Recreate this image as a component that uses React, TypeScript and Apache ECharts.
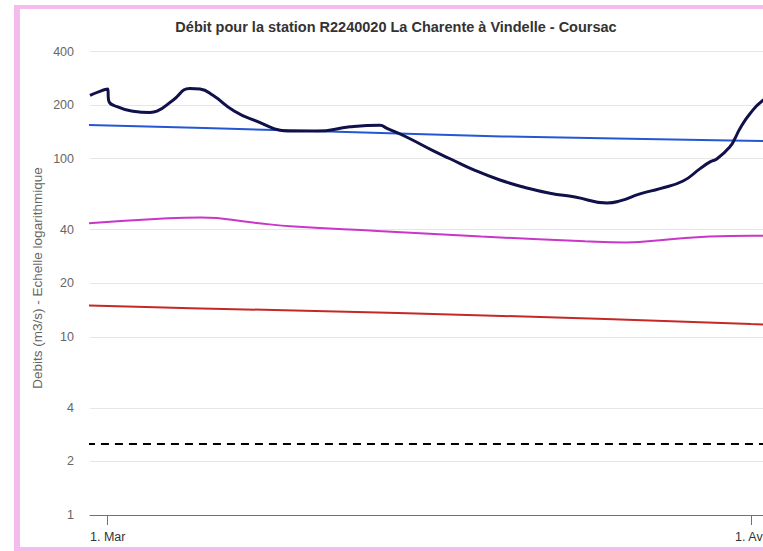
import React, { useEffect, useRef } from "react";
import * as echarts from "echarts";

const YEAR = 2023;
const TITLE = "Débit pour la station R2240020 La Charente à Vindelle - Coursac";
const Y_AXIS_NAME = "Debits (m3/s) - Echelle logarithmique";
const Y_TICKS = [1, 2, 4, 10, 20, 40, 100, 200, 400];
const X_TICKS = ["03-01 00:00", "04-01 00:00"];
const X_TICK_LABELS = ["1. Mar", "1. Avr"];

const OBS_TIMES = [
  "02-28 03:30", "02-28 15:00", "03-01 00:00", "03-01 01:00", "03-01 10:45",
  "03-02 05:15", "03-03 01:00", "03-03 09:00", "03-04 03:30", "03-04 23:00",
  "03-05 10:45", "03-06 01:40", "03-07 01:00", "03-07 20:30", "03-09 22:20",
  "03-11 02:10", "03-12 16:20", "03-14 03:00", "03-14 11:00", "03-15 10:10",
  "03-16 16:10", "03-17 12:00", "03-18 16:50", "03-19 21:40", "03-21 02:40",
  "03-22 07:30", "03-23 12:30", "03-25 01:30", "03-25 16:30", "03-26 15:40",
  "03-27 14:50", "03-28 17:30", "03-29 13:10", "03-30 00:40", "03-30 08:50",
  "03-30 23:50", "03-31 05:30", "03-31 11:20", "03-31 22:50", "04-01 14:00",
  "04-02 09:40",
];
const OBS_VALUES = [
  227, 239, 246, 213, 196,
  185, 182, 185, 213, 248,
  246, 227, 187, 168, 143,
  143, 151, 154, 148, 132,
  111, 100, 86, 76, 69,
  64, 61, 56.5, 58, 63.5,
  68, 75, 88, 96, 100,
  117, 130, 148, 179, 213,
  240,
];

const BLUE_TIMES = ["02-28 00:00", "03-10 00:00", "03-20 00:00", "03-31 00:00", "04-10 00:00"];
const BLUE_VALUES = [155, 144, 133.5, 126.5, 121];

const MAGENTA_TIMES = [
  "02-28 00:00", "03-03 12:00", "03-05 12:00", "03-08 00:00", "03-10 00:00",
  "03-14 00:00", "03-19 00:00", "03-24 00:00", "03-26 00:00", "03-28 00:00",
  "03-30 00:00", "04-01 00:00", "04-10 00:00",
];
const MAGENTA_VALUES = [43.3, 46, 46.8, 43.8, 41.6, 39.3, 36.6, 34.4, 33.9, 35.2, 36.6, 37, 37];

const RED_TIMES = ["02-28 00:00", "03-05 00:00", "03-15 00:00", "03-25 00:00", "04-01 00:00", "04-10 00:00"];
const RED_VALUES = [15.0, 14.5, 13.6, 12.6, 11.8, 11.0];

const DASH_TIMES = ["02-28 00:00", "04-10 00:00"];
const DASH_VALUES = [2.5, 2.5];

const DAY = 86400000;
const ts = (s: string) => Date.parse(`${YEAR}-${s.replace(" ", "T")}:00Z`);
const X_MIN = ts("03-01 00:00") - 0.853 * DAY;
const X_MAX = ts("04-10 00:00");
const PX_PER_DAY = 20.75;
const GRID_LEFT = 90;
const CHART_W = 1000;
const PLOT_W = ((X_MAX - X_MIN) / DAY) * PX_PER_DAY;

const toData = (times: string[], vals: number[]) =>
  times.map((t, i) => [ts(t), Math.log10(vals[i])]);

const FONT = "'Liberation Sans', Arial, Helvetica, sans-serif";

export default function App() {
  const ref = useRef<HTMLDivElement>(null);
  useEffect(() => {
    if (!ref.current) return;
    const chart = echarts.init(ref.current, null, { renderer: "svg" });
    const yTickVals = Y_TICKS.map((v) => Math.log10(v));
    const xTickVals = X_TICKS.map(ts);
    chart.setOption({
      animation: false,
      textStyle: { fontFamily: FONT },
      grid: {
        left: GRID_LEFT,
        width: PLOT_W,
        top: 51.5,
        bottom: 36,
      },
      graphic: [
        {
          type: "text",
          x: 396,
          y: 27,
          style: {
            text: TITLE,
            font: `bold 14.5px ${FONT}`,
            fill: "#333333",
            align: "center",
            verticalAlign: "middle",
          },
        },
        {
          type: "text",
          x: 37,
          y: 278,
          rotation: Math.PI / 2,
          style: {
            text: Y_AXIS_NAME,
            font: `13.5px ${FONT}`,
            fill: "#666666",
            align: "center",
            verticalAlign: "middle",
          },
        },
      ],
      xAxis: {
        type: "value",
        min: X_MIN,
        max: X_MAX,
        axisLine: { show: true, lineStyle: { color: "#707070", width: 1 } },
        axisTick: {
          show: true,
          length: 10,
          customValues: xTickVals,
          lineStyle: { color: "#707070" },
        },
        axisLabel: {
          customValues: xTickVals,
          margin: 15,
          color: "#333333",
          fontSize: 12.5,
          fontFamily: FONT,
          formatter: (v: number) => {
            const i = xTickVals.findIndex((t) => Math.abs(t - v) < 1000);
            return i >= 0 ? X_TICK_LABELS[i] : "";
          },
        },
        splitLine: { show: false },
      },
      yAxis: {
        type: "value",
        min: 0,
        max: Math.log10(400),
        axisLine: { show: false },
        axisTick: { show: false, customValues: yTickVals },
        axisLabel: {
          customValues: yTickVals,
          margin: 16,
          color: "#666666",
          fontSize: 12.5,
          fontFamily: FONT,
          formatter: (v: number) => String(Math.round(Math.pow(10, v))),
        },
        splitLine: { show: true, lineStyle: { color: "#e6e6e6", width: 1 } },
      },
      series: [
        {
          type: "line",
          data: toData(DASH_TIMES, DASH_VALUES),
          symbol: "none",
          lineStyle: { color: "#000000", width: 2, type: [8, 6] },
        },
        {
          type: "line",
          data: toData(RED_TIMES, RED_VALUES),
          symbol: "none",
          smooth: 0.3,
          lineStyle: { color: "#c62828", width: 2 },
        },
        {
          type: "line",
          data: toData(MAGENTA_TIMES, MAGENTA_VALUES),
          symbol: "none",
          smooth: 0.5,
          lineStyle: { color: "#c837c8", width: 2 },
        },
        {
          type: "line",
          data: toData(BLUE_TIMES, BLUE_VALUES),
          symbol: "none",
          smooth: 0.3,
          lineStyle: { color: "#2456d6", width: 2 },
        },
        {
          type: "line",
          data: toData(OBS_TIMES, OBS_VALUES),
          symbol: "none",
          smooth: 0.5,
          lineStyle: { color: "#10104a", width: 3 },
        },
      ],
    });
    return () => chart.dispose();
  }, []);

  return (
    <div
      style={{
        position: "fixed",
        left: 0,
        top: 0,
        width: 763,
        height: 551,
        overflow: "hidden",
        background: "#ffffff",
      }}
    >
      <div
        ref={ref}
        style={{ position: "absolute", left: 0, top: 0, width: CHART_W, height: 551 }}
      />
      <div
        style={{
          position: "absolute",
          left: 14,
          top: 5,
          width: 1000,
          height: 546,
          boxSizing: "border-box",
          borderLeft: "6px solid #f5bbec",
          borderTop: "4px solid #f5bbec",
          borderBottom: "4px solid #f5bbec",
          pointerEvents: "none",
        }}
      />
    </div>
  );
}
